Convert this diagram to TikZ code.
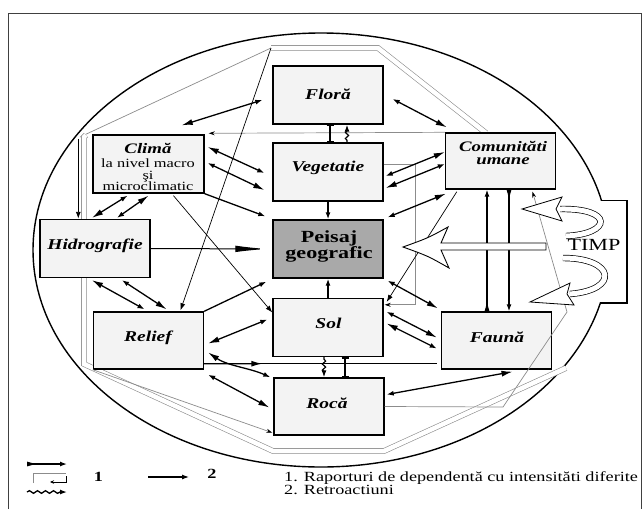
\documentclass[tikz,border=0pt]{standalone}
\usepackage{fontspec}
\setmainfont{Liberation Serif}[FakeStretch=1.3]
\usetikzlibrary{arrows.meta,calc,decorations.pathmorphing}

\definecolor{boxfill}{HTML}{F3F3F3}
\definecolor{corefill}{HTML}{A9A9A9}
\definecolor{ringgray}{HTML}{8C8C8C}

\tikzset{
  hd/.tip={Latex[length=7pt,width=5pt]},
  hv/.tip={Latex[length=11pt,width=6pt]},
  hvr/.tip={Latex[length=11pt,width=5pt,reversed]},
  fact/.style={draw=black, line width=1.4pt, fill=boxfill, minimum width=110pt,
    minimum height=58pt, inner sep=0pt},
  core/.style={fact, fill=corefill},
  lbl/.style={font=\fontsize{15}{15}\selectfont\bfseries\itshape, inner sep=0pt},
  rel/.style={line width=1.3pt},
  thin/.style={line width=0.7pt},
  ring/.style={draw=ringgray, line width=0.7pt},
  ringd/.style={draw=ringgray, line width=0.6pt, double=white, double distance=4.5pt},
  snk/.style={decorate, decoration={snake, amplitude=1.6pt, segment length=6pt,
    pre length=2pt, post length=5pt}},
  swirl/.style={draw=black, line width=0.7pt, double=white, double distance=5pt},
}

\begin{document}
\begin{tikzpicture}[x=1pt,y=-1pt]
\useasboundingbox (0,0) rectangle (644,509);
\fill[white] (0,0) rectangle (644,509);

% outer frame
\draw[line width=1pt, black!75] (8.5,509) -- (8.5,13.5) -- (641.5,13.5) -- (641.5,509);

% enclosing ellipse, opened where the time box joins it
\draw[line width=1.4pt] (321,250) ellipse [x radius=288pt, y radius=217pt];
\fill[white] (596,201.2) rectangle (626.3,302.3);
\draw[line width=1.3pt] (600.6,200.5) -- (627,200.5) -- (627,303) -- (600,303);

% free point of the gray ring
\coordinate (tl) at (271,48);

% gray ring
\draw[ringd] (tl) -- (378,48) -- (486,133);
\draw[ring] (tl) -- (80,137);
\draw[ringd] (86,135) -- (84,137) -- (84,364) -- (273,451) -- (384,451) -- (566,368);

% boxes
\node[fact] (flora)  at (328,95)     {};
\node[fact] (veg)    at (328,172)    {};
\node[fact, minimum width=111pt] (clima) at (148.5,164) {};
\node[fact, minimum height=56pt] (comun) at (500.5,161) {};
\node[fact] (hidro)  at (95,248.5)   {};
\node[core] (peisaj) at (328,249)    {};
\node[fact, minimum height=57pt] (relief) at (148.5,340.5) {};
\node[fact] (sol)    at (328,327.5)  {};
\node[fact, minimum height=57pt] (fauna)  at (496.5,340.5) {};
\node[fact, minimum height=57pt] (roca)   at (329,406.5)   {};

% labels
\node[lbl] (floraT)  at (328,94)   {Floră};
\node[lbl] (vegT)    at (328,168)  {Vegetatie};
\node[lbl, font=\fontsize{14.5}{14.5}\selectfont\bfseries\itshape] (climaT) at (148,148.5) {Climă};
\node[inner sep=0pt, align=center, font=\fontsize{12.6}{11.6}\selectfont] (climaS)
  at (148,175) {la nivel macro\\şi\\microclimatic};
\node[lbl, align=center, font=\fontsize{14.5}{13.6}\selectfont\bfseries\itshape] (comunT)
  at (503,153) {Comunităti\\umane};
\node[lbl] (hidroT)  at (95,246)   {Hidrografie};
\node[inner sep=0pt, align=center, font=\fontsize{17}{16.5}\selectfont\bfseries] (peisajT)
  at (329,246.5) {Peisaj\\geografic};
\node[lbl] (reliefT) at (148,338)  {Relief};
\node[lbl] (solT)    at (328.5,323) {Sol};
\node[lbl] (faunaT)  at (497,337)  {Faună};
\node[lbl] (rocaT)   at (327,403)  {Rocă};

% gray feedback lines
\draw[ring, -{Stealth[length=6pt,width=4pt,color=black]}]
  (comun.north west) -- ($(clima.north east)+(4,-1)$);
\draw[ring, -{Stealth[length=6pt,width=4pt,color=black]}]
  ($(veg.east)+(0,-8)$) -| ($(sol.north east)+(32,7)$) -- ($(sol.north east)+(1,7)$);
\draw[ring, -{Stealth[length=6pt,width=4pt,color=black]}]
  (roca.east) -- (503,407) -- (567,312) -- ($(comun.south)+(32,2)$);
\draw[ring, -{Stealth[length=6pt,width=4pt,color=black]}]
  (relief.south west) -- ($(roca.south west)+(-1,-3)$);

% thin long connections
\draw[thin, -hd] (tl) -- ($(relief.north)+(32,-1)$);
\draw[thin, -hd] ($(clima.south)+(25,2)$) -- ($(sol.west)+(0,-15)$);
\draw[thin, -hd] ($(comun.south west)+(12,2)$) -- ($(sol.north east)+(3,4)$);
\draw[line width=0.9pt, -hd] ($(hidro.north west)+(39,-80)$) -- ($(hidro.north west)+(39,0)$);
\draw[line width=1pt, -{Latex[length=32pt,width=6.5pt]}, shorten >=5pt] (hidro.east) -- (peisaj.west);

% dependence relations
\draw[rel, hv-hd] ($(clima.north east)+(-23,-9)$) -- ($(flora.west)+(-10,5)$);
\draw[rel, hd-hv] ($(flora.east)+(9,4)$) -- ($(comun.north west)+(2,-5)$);
\draw[rel, hv-hd] ($(clima.east)+(3,-17)$) -- ($(veg.west)+(-8,1)$);
\draw[rel, hd-hv] ($(clima.east)+(3,-1)$) -- ($(veg.west)+(-8,18)$);
\draw[rel, -hd] (clima.south east) -- ($(peisaj.north west)+(-7,-3)$);
\draw[rel, hd-hv] ($(clima.south)+(-21,2)$) -- ($(hidro.north)+(-3,-1)$);
\draw[rel, hv-hd] ($(clima.south)+(0,2)$) -- ($(hidro.north)+(22,-1)$);
\draw[rel, hv-hd] ($(hidro.south)+(-3,2)$) -- ($(relief.north)+(-4,-2)$);
\draw[rel, hd-hv] ($(hidro.south)+(27,2)$) -- ($(relief.north)+(18,-2)$);
\draw[rel, -hd] (relief.north east) -- ($(peisaj.south west)+(-6,3)$);
\draw[rel, hv-hd] ($(relief.east)+(4,3)$) -- ($(sol.west)+(-5,-8)$);
\draw[rel, hd-hv] ($(relief.south east)+(4,5)$) -- ($(roca.west)+(-4,1)$);
\draw[rel, hv-hd] ($(relief.east)+(4,12)$) .. controls (228,366) and (250,368) .. ($(roca.north west)+(-3,0)$);
\coordinate (rfA) at ($(relief.south east)+(0,-6)$);
\coordinate (rfB) at ($(fauna.south west)+(-4,-6)$);
\draw[rel] (rfA) -- (rfB);
\draw[rel, -hv] (rfA) -- ($(rfA)!0.25!(rfB)$);
\draw[line width=1.6pt, -hd] (veg.south) -- (peisaj.north);
\draw[line width=1.6pt, -hd] (sol.north) -- (peisaj.south);
\draw[rel, hv-hd] ($(comun.west)+(0,-9)$) -- ($(veg.east)+(2,4)$);
\draw[rel, hd-hv] ($(comun.west)+(0,3)$) -- ($(veg.east)+(2,16)$);
\draw[rel, hv-hd] ($(comun.south west)+(1,4)$) -- ($(peisaj.north east)+(4,-2)$);
\draw[rel, hd-hv] ($(peisaj.south east)+(4,2)$) -- ($(fauna.north west)+(-3,-3)$);
\draw[rel, hd-hv] ($(sol.north east)+(3,14)$) -- ($(fauna.west)+(-4,-3)$);
\draw[rel, hv-hd] ($(sol.east)+(3,-4)$) -- ($(fauna.west)+(-4,8)$);
\draw[rel, hd-hv] ($(roca.east)+(2,-12)$) -- ($(fauna.south)+(16,2)$);
\draw[rel, hvr-hd] ($(fauna.north)+(-9.5,0)$) -- ($(comun.south)+(-13.5,0)$);
\draw[rel, hvr-hd] ($(comun.south)+(8.5,0)$) -- ($(fauna.north)+(12.5,0)$);

% short links between stacked boxes
\draw[line width=1.3pt, {Bar[width=7pt]}-{Bar[width=7pt]}] ($(flora.south)+(2,0)$) -- ($(veg.north)+(2,0)$);
\draw[line width=1.2pt, snk, -hd] ($(veg.north)+(19,0)$) -- ($(flora.south)+(19,0)$);
\draw[line width=1.2pt, snk, -hd] ($(sol.south)+(-4,0)$) -- ($(roca.north)+(-5,0)$);
\draw[line width=1.3pt, {Bar[width=7pt]}-{Bar[width=7pt]}] ($(sol.south)+(17,0)$) -- ($(roca.north)+(16,0)$);

% time influence
\draw[line width=0.9pt, fill=white] (546,243) -- (441,243) -- (448,227)
  .. controls (428,238) .. (403,247) .. controls (428,256) .. (449,268)
  -- (441,250) -- (546,250) -- cycle;
\draw[swirl] (566,236) .. controls (612,234) and (614,208) .. (560,209);
\draw[line width=0.8pt, fill=white] (562,197) -- (522,209) -- (562,221) -- (556,209) -- cycle;
\draw[swirl] (563,258) .. controls (615,258) and (620,290) .. (570,294);
\draw[line width=0.8pt, fill=white] (570,283) -- (530,302) -- (574,305) -- (567,294) -- cycle;
\node[inner sep=0pt, font=\fontsize{17}{17}\selectfont] (timpT) at (594,245) {TIMP};

% legend
\draw[rel, hvr-hd] (27,464) -- (67,464);
\draw[ring, line width=0.9pt] (33,483) -- (33,473) -- (66,473);
\draw[line width=0.9pt, -{Stealth[length=4pt,width=3.5pt]}] (66,476) -- (66,482) -- (50,482);
\draw[rel, decorate, decoration={snake, amplitude=1.3pt, segment length=8pt, post length=6pt}, -hd]
  (27,492) -- (67,492);
\node[inner sep=0pt, font=\fontsize{14}{14}\selectfont\bfseries] (leg1) at (98.5,477) {1};
\coordinate (legA) at (148,477);
\coordinate (legB) at (189,477);
\draw[line width=1.1pt, -hd] (legA) -- (legB);
\node[inner sep=0pt, font=\fontsize{14}{14}\selectfont\bfseries] (leg2) at (212,474) {2};
\node[inner sep=0pt, anchor=north west, align=left, font=\fontsize{14}{13.5}\selectfont]
  (legT) at (284,471) {1. Raporturi de dependentă cu intensităti diferite\\2. Retroactiuni};
\end{tikzpicture}
\end{document}
